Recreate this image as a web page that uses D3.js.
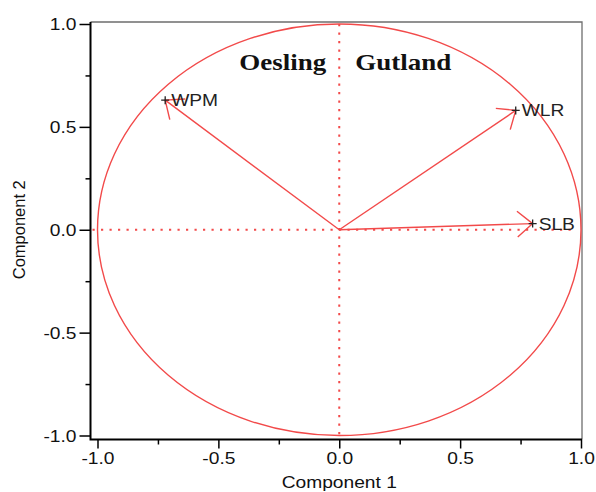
<!DOCTYPE html>
<html>
<head>
<meta charset="utf-8">
<script src="https://cdn.jsdelivr.net/npm/d3@7"></script>
<style>
  html, body { margin: 0; padding: 0; background: #fff; }
  svg { display: block; }
</style>
</head>
<body>
<svg id="chart" width="596" height="492"></svg>
<script>
// ---- data ----
const variables = ["WPM", "WLR", "SLB"];
const comp1 = [-0.72, 0.73, 0.80];
const comp2 = [0.63, 0.58, 0.03];
const majorTicks = [-1.0, -0.5, 0.0, 0.5, 1.0];
const minorTicks = [-0.75, -0.25, 0.25, 0.75];
const regionLabels = ["Oesling", "Gutland"];

const svg = d3.select("#chart");
const RED = "#f24a4a";
const SX = 1.2; // horizontal text stretch seen in reference

const x = d3.scaleLinear().domain([-1, 1]).range([97.5, 581]);
const y = d3.scaleLinear().domain([-1, 1]).range([435.5, 24]);

const frame = { left: 90.5, right: 582, top: 22, bottom: 439.5 };

// top & right frame (thin gray)
svg.append("path")
  .attr("d", `M${frame.left},${frame.top}H${frame.right}V${frame.bottom}`)
  .attr("fill", "none").attr("stroke", "#6e6e6e").attr("stroke-width", 1.3);

// unit circle
svg.append("ellipse")
  .attr("cx", x(0)).attr("cy", y(0))
  .attr("rx", x(1) - x(0)).attr("ry", y(-1) - y(0))
  .attr("fill", "none").attr("stroke", RED).attr("stroke-width", 1.4);

// dotted reference lines
svg.append("line")
  .attr("x1", x(0)).attr("x2", x(0)).attr("y1", frame.top + 2).attr("y2", frame.bottom)
  .attr("stroke", RED).attr("stroke-width", 2).attr("stroke-dasharray", "2.2,6.3");
svg.append("line")
  .attr("x1", frame.left + 2).attr("x2", frame.right - 8).attr("y1", y(0)).attr("y2", y(0))
  .attr("stroke", RED).attr("stroke-width", 2).attr("stroke-dasharray", "2.2,6.3");

// region labels
const labY = 70;
svg.append("text")
  .attr("transform", `translate(${x(0) - 13},${labY}) scale(${SX},1)`)
  .attr("text-anchor", "end")
  .attr("font-family", "'Liberation Serif','Times New Roman',serif")
  .attr("font-weight", "bold").attr("font-size", 22.5).attr("fill", "#111")
  .text(regionLabels[0]);
svg.append("text")
  .attr("transform", `translate(${x(0) + 16},${labY}) scale(${SX},1)`)
  .attr("text-anchor", "start")
  .attr("font-family", "'Liberation Serif','Times New Roman',serif")
  .attr("font-weight", "bold").attr("font-size", 22.5).attr("fill", "#111")
  .text(regionLabels[1]);

// arrows
const data = variables.map((v, i) => ({ name: v, c1: comp1[i], c2: comp2[i] }));
const x0 = x(0), y0 = y(0);
const headLen = 20, headAng = 40 * Math.PI / 180;
const g = svg.append("g");
data.forEach(d => {
  const tx = x(d.c1), ty = y(d.c2);
  const back = Math.atan2(y0 - ty, x0 - tx);
  const b1 = [tx + headLen * Math.cos(back + headAng), ty + headLen * Math.sin(back + headAng)];
  const b2 = [tx + headLen * Math.cos(back - headAng), ty + headLen * Math.sin(back - headAng)];
  g.append("line").attr("x1", x0).attr("y1", y0).attr("x2", tx).attr("y2", ty)
    .attr("stroke", RED).attr("stroke-width", 1.4);
  g.append("path").attr("d", `M${b1[0]},${b1[1]}L${tx},${ty}L${b2[0]},${b2[1]}`)
    .attr("fill", "none").attr("stroke", RED).attr("stroke-width", 1.4);
  // plus marker
  g.append("path").attr("d", `M${tx - 4},${ty}H${tx + 4}M${tx},${ty - 4}V${ty + 4}`)
    .attr("stroke", "#222").attr("stroke-width", 1.3);
  g.append("text")
    .attr("transform", `translate(${tx + 6},${ty + 6}) scale(${SX},1)`)
    .attr("font-family", "'Liberation Sans',Arial,sans-serif")
    .attr("font-size", 16).attr("fill", "#222")
    .text(d.name);
});

// axes
const fmt = d => d.toFixed(1).replace("−", "-");
const yAx = svg.append("g").attr("transform", `translate(${frame.left},0)`)
  .call(d3.axisLeft(y).tickValues(majorTicks).tickSize(11).tickPadding(3).tickFormat(fmt));
const yMin = svg.append("g").attr("transform", `translate(${frame.left},0)`)
  .call(d3.axisLeft(y).tickValues(minorTicks).tickSize(5).tickFormat(""));
const xAx = svg.append("g").attr("transform", `translate(0,${frame.bottom})`)
  .call(d3.axisBottom(x).tickValues(majorTicks).tickSize(9).tickPadding(4).tickFormat(fmt));
const xMin = svg.append("g").attr("transform", `translate(0,${frame.bottom})`)
  .call(d3.axisBottom(x).tickValues(minorTicks).tickSize(5).tickFormat(""));

[yAx, yMin, xAx, xMin].forEach(a => {
  a.select(".domain").remove();
  a.selectAll("line").attr("stroke", "#000").attr("stroke-width", 1.5);
  a.selectAll("text").attr("font-family", "'Liberation Sans',Arial,sans-serif")
    .attr("font-size", 16).attr("fill", "#111");
});
yAx.selectAll("text").attr("x", null).attr("dy", "0.36em")
  .attr("transform", `translate(-14,0) scale(${SX},1)`);
xAx.selectAll("text").attr("dy", null).attr("y", 25)
  .attr("transform", `scale(${SX},1)`);

// axis lines
svg.append("path")
  .attr("d", `M${frame.left},${frame.top}V${frame.bottom}H${frame.right}`)
  .attr("fill", "none").attr("stroke", "#000").attr("stroke-width", 2);

// axis titles
svg.append("text")
  .attr("transform", `translate(${x(0)},487.5) scale(${SX},1)`)
  .attr("text-anchor", "middle")
  .attr("font-family", "'Liberation Sans',Arial,sans-serif")
  .attr("font-size", 16).attr("fill", "#111")
  .text("Component 1");
svg.append("text")
  .attr("transform", `translate(25,${y(0)}) rotate(-90)`)
  .attr("text-anchor", "middle")
  .attr("font-family", "'Liberation Sans',Arial,sans-serif")
  .attr("font-size", 16.5).attr("fill", "#111")
  .text("Component 2");
</script>
</body>
</html>
